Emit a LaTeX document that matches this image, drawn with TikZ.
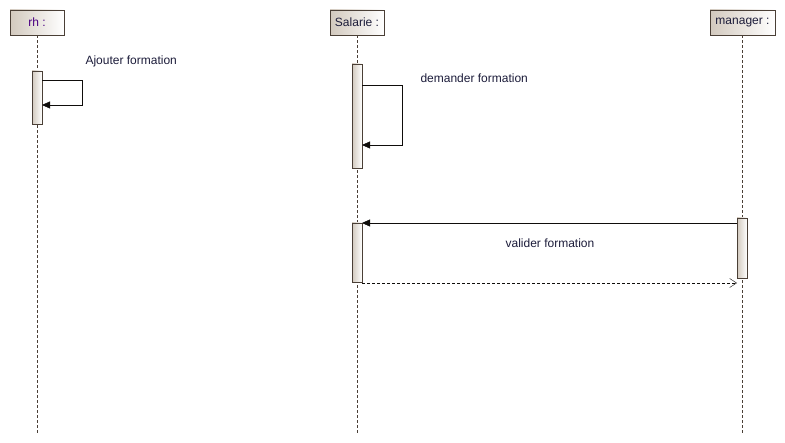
\documentclass[tikz,border=0pt]{standalone}
\usepackage{fontspec}
\setmainfont{Liberation Sans}
\usetikzlibrary{arrows.meta}
\definecolor{umlline}{HTML}{4A3F36}
\definecolor{umlfill}{HTML}{D2C9BE}
\definecolor{rhtext}{HTML}{4B0082}
\definecolor{nametext}{HTML}{1C1C3A}

\tikzset{
  header/.style={draw=umlline, left color=umlfill, right color=white, minimum height=25pt, inner sep=0pt, text=nametext},
  activation/.style={draw=umlline, left color=umlfill, right color=white, minimum width=10pt, inner sep=0pt},
  lifeline/.style={umlline, dash pattern=on 3pt off 2pt},
  call/.style={draw=black!80!umlline, -{Triangle[length=8pt,width=7pt]}},
  reply/.style={draw=black!80!umlline, dash pattern=on 3pt off 2pt, -{Straight Barb[length=7pt,width=9pt]}},
  msglabel/.style={text=nametext}
}

\begin{document}
\begin{tikzpicture}[x=1pt, y=-1pt, every node/.style={font=\fontsize{12}{14}\selectfont}]
\useasboundingbox (0,0) rectangle (785,443);

% --- Participants ---
\node[header, minimum width=54pt, text=rhtext] (rh) at (37,22.5) {rh :};
\node[header, minimum width=54pt] (salarie) at (357,22.5) {Salarie :};
\node[header, minimum width=65pt] (manager) at (742.5,22.5) {manager :};

% --- Lifelines ---
\coordinate (rhend) at (37,433);
\coordinate (salend) at (357,433);
\coordinate (mgrend) at (742,433);
\draw[lifeline] (rh.south) -- (rhend);
\draw[lifeline] (salarie.south) -- (salend);
\draw[lifeline] ([xshift=-0.5pt]manager.south) -- (mgrend);

% --- Activations ---
\node[activation, minimum height=53pt] (rhact) at (37,97.5) {};
\node[activation, minimum height=104pt] (salact) at (357,116) {};
\node[activation, minimum height=59pt] (salact2) at (357,252.5) {};
\node[activation, minimum height=60pt] (mgract) at (742,248) {};

% --- Messages ---
% self call on rh
\coordinate (rhout) at (42,80);
\coordinate (rhin) at (42,105);
\draw[call] (rhout) -- ++(40,0) |- (rhin);
\node[msglabel, anchor=west] (rhlabel) at (82,61) {Ajouter formation};

% self call on Salarie
\coordinate (salout) at (362,85);
\coordinate (salin) at (362,145);
\draw[call] (salout) -- ++(40,0) |- (salin);
\node[msglabel, anchor=west] (sallabel) at (417,78) {demander formation};

% manager -> Salarie and reply
\coordinate (mgrout) at (737,223);
\coordinate (salin2) at (362,223);
\draw[call] (mgrout) -- (salin2);
\node[msglabel] (mgrlabel) at (550,243) {valider formation};
\coordinate (salout2) at (362,283);
\coordinate (mgrin) at (737,283);
\draw[reply] (salout2) -- (mgrin);

\end{tikzpicture}
\end{document}
